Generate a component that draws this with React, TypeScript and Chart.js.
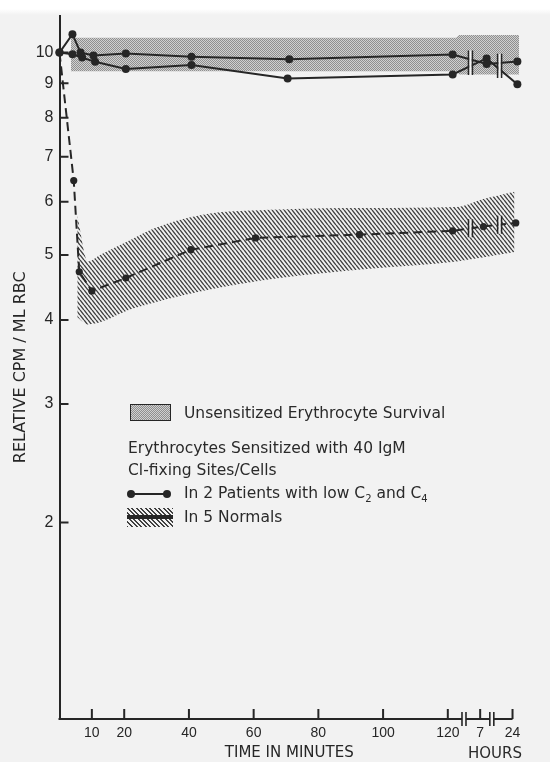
import React, { useEffect, useRef } from "react";
import { Chart, registerables } from "chart.js";

Chart.register(...registerables);

const INK = "#262626";
const PAPER = "#f2f2f2";
const SANS = "'DejaVu Sans', 'Liberation Sans', sans-serif";
const NARROW = "'Liberation Sans', Arial, sans-serif";

// Broken time axis: minutes up to 120, then 130 = 7 hours, 140 = 24 hours
const xTickValues = [10, 20, 40, 60, 80, 100, 120, 130, 140];
const xTickLabels = ["10", "20", "40", "60", "80", "100", "120", "7", "24"];
const yTickValues = [2, 3, 4, 5, 6, 7, 8, 9, 10];
const axisBreaks = [125, 133.6];
const curveBreaks = [127, 136];

// Patients with low C2 and C4 (two curves)
const patientATime = [0, 4, 6.5, 10.5, 20.5, 40.8, 71, 121.5, 132, 141.5];
const patientAValue = [10, 10.65, 10.0, 9.9, 9.97, 9.86, 9.77, 9.93, 9.62, 9.7];
const patientBTime = [0, 4, 7, 11, 20.5, 40.8, 70.5, 121.5, 132, 141.5];
const patientBValue = [10, 9.94, 9.83, 9.69, 9.45, 9.58, 9.15, 9.28, 9.8, 8.97];

// Normals: mean curve and range
const normalTime = [0, 4.4, 6.1, 10, 20.5, 40.6, 60.6, 92.7, 121.5, 131, 141];
const normalValue = [10, 6.45, 4.72, 4.42, 4.62, 5.09, 5.3, 5.36, 5.43, 5.51, 5.58];
const normalHighTime = [5.5, 8.8, 12.5, 20.8, 28.9, 43.4, 68, 96, 122.7, 130.7, 140.6];
const normalHighValue = [5.72, 4.89, 5.0, 5.23, 5.47, 5.73, 5.84, 5.87, 5.89, 6.05, 6.21];
const normalLowTime = [5.5, 8.8, 22.7, 43.4, 68, 95.8, 122.7, 140.6];
const normalLowValue = [4.04, 3.94, 4.16, 4.41, 4.62, 4.77, 4.89, 5.05];

// Unsensitized erythrocyte survival band
const unsensTime = [3.5, 122.5, 123.5, 142];
const unsensHigh = [10.52, 10.52, 10.62, 10.62];
const unsensLow = [9.38, 9.38, 9.28, 9.28];

function pts(xs: number[], ys: number[]) {
  return xs.map((x, i) => ({ x, y: ys[i] }));
}

function interp(xs: number[], ys: number[], v: number) {
  for (let i = 0; i < xs.length - 1; i++) {
    if (v >= xs[i] && v <= xs[i + 1]) {
      const t = (v - xs[i]) / (xs[i + 1] - xs[i]);
      return ys[i] + t * (ys[i + 1] - ys[i]);
    }
  }
  return ys[ys.length - 1];
}

function makeHatch(ctx: CanvasRenderingContext2D) {
  const c = document.createElement("canvas");
  const w = 4, h = 5;
  c.width = w;
  c.height = h;
  const g = c.getContext("2d")!;
  g.strokeStyle = "#404040";
  g.lineWidth = 1.4;
  g.beginPath();
  g.moveTo(0, 0); g.lineTo(w, h);
  g.moveTo(-w, 0); g.lineTo(0, h);
  g.moveTo(w, 0); g.lineTo(2 * w, h);
  g.stroke();
  return ctx.createPattern(c, "repeat")!;
}

function makeStipple(ctx: CanvasRenderingContext2D) {
  const c = document.createElement("canvas");
  c.width = 2;
  c.height = 2;
  const g = c.getContext("2d")!;
  g.fillStyle = "#d0d0d0";
  g.fillRect(0, 0, 2, 2);
  g.fillStyle = "#8f8f8f";
  g.fillRect(0, 0, 1, 1);
  g.fillRect(1, 1, 1, 1);
  return ctx.createPattern(c, "repeat")!;
}

const decorPlugin = {
  id: "decor",
  afterDraw(chart: any) {
    const { ctx, chartArea, scales } = chart;
    const x = scales.x;
    const y = scales.y;
    const yb = chartArea.bottom;
    const left = chartArea.left;
    ctx.save();
    ctx.strokeStyle = INK;
    ctx.lineCap = "butt";

    // x axis line with breaks
    ctx.lineWidth = 2;
    const bp = axisBreaks.map((v) => x.getPixelForValue(v));
    const xEnd = x.getPixelForValue(140);
    const segs = [
      [left - 1, bp[0] - 2],
      [bp[0] + 2, bp[1] - 2],
      [bp[1] + 2, xEnd],
    ];
    ctx.beginPath();
    segs.forEach(([a, b]) => {
      ctx.moveTo(a, yb);
      ctx.lineTo(b, yb);
    });
    ctx.stroke();
    ctx.lineWidth = 1.6;
    ctx.beginPath();
    bp.forEach((p) => {
      ctx.moveTo(p - 2, yb - 7);
      ctx.lineTo(p - 2, yb + 7);
      ctx.moveTo(p + 2, yb - 7);
      ctx.lineTo(p + 2, yb + 7);
    });
    ctx.stroke();

    // inward tick marks
    ctx.lineWidth = 2;
    ctx.beginPath();
    xTickValues.forEach((v) => {
      const px = x.getPixelForValue(v);
      ctx.moveTo(px, yb);
      ctx.lineTo(px, yb - 10);
    });
    yTickValues.forEach((v) => {
      const py = y.getPixelForValue(v);
      ctx.moveTo(left, py);
      ctx.lineTo(left + 9, py);
    });
    ctx.stroke();

    // break marks on curves
    const drawPair = (px: number, top: number, bottom: number) => {
      ctx.fillStyle = PAPER;
      ctx.fillRect(px - 1.2, top, 2.4, bottom - top);
      ctx.lineWidth = 1.5;
      ctx.beginPath();
      ctx.moveTo(px - 2, top);
      ctx.lineTo(px - 2, bottom);
      ctx.moveTo(px + 2, top);
      ctx.lineTo(px + 2, bottom);
      ctx.stroke();
    };
    curveBreaks.forEach((b) => {
      const px = x.getPixelForValue(b);
      const pa = y.getPixelForValue(interp(patientATime, patientAValue, b));
      const pb = y.getPixelForValue(interp(patientBTime, patientBValue, b));
      drawPair(px, Math.min(pa, pb) - 9, Math.max(pa, pb) + 9);
      const pn = y.getPixelForValue(interp(normalTime, normalValue, b));
      drawPair(px, pn - 9, pn + 9);
    });
    ctx.restore();
  },
};

const textStyle: React.CSSProperties = {
  position: "absolute",
  whiteSpace: "nowrap",
  fontFamily: SANS,
  fontSize: 15.5,
  lineHeight: "18px",
  color: "#2a2a2a",
};

export default function App() {
  const ref = useRef<HTMLCanvasElement>(null);

  useEffect(() => {
    const canvas = ref.current!;
    const ctx = canvas.getContext("2d")!;
    const hatch = makeHatch(ctx);
    const stipple = makeStipple(ctx);
    const transparent = "rgba(0,0,0,0)";

    const chart = new Chart(canvas, {
      type: "line",
      data: {
        datasets: [
          {
            label: "Patient A",
            data: pts(patientATime, patientAValue),
            borderColor: INK,
            backgroundColor: INK,
            borderWidth: 2,
            pointRadius: 4,
            pointBorderWidth: 0,
            fill: false,
            tension: 0,
            clip: false,
          },
          {
            label: "Patient B",
            data: pts(patientBTime, patientBValue),
            borderColor: INK,
            backgroundColor: INK,
            borderWidth: 2,
            pointRadius: 4,
            pointBorderWidth: 0,
            fill: false,
            tension: 0,
            clip: false,
          },
          {
            label: "Normals mean",
            data: pts(normalTime, normalValue),
            borderColor: INK,
            backgroundColor: INK,
            borderWidth: 2,
            borderDash: [9, 5],
            pointRadius: normalTime.map((_, i) => (i === 0 ? 0 : 3.6)),
            pointBorderWidth: 0,
            fill: false,
            tension: 0,
            clip: false,
          },
          {
            label: "Unsensitized high",
            data: pts(unsensTime, unsensHigh),
            borderColor: transparent,
            backgroundColor: stipple,
            pointRadius: 0,
            fill: 4,
            tension: 0,
          },
          {
            label: "Unsensitized low",
            data: pts(unsensTime, unsensLow),
            borderColor: transparent,
            pointRadius: 0,
            fill: false,
            tension: 0,
          },
          {
            label: "Normals high",
            data: pts(normalHighTime, normalHighValue),
            borderColor: transparent,
            backgroundColor: hatch,
            pointRadius: 0,
            fill: 6,
            cubicInterpolationMode: "monotone",
          },
          {
            label: "Normals low",
            data: pts(normalLowTime, normalLowValue),
            borderColor: transparent,
            pointRadius: 0,
            fill: false,
            cubicInterpolationMode: "monotone",
          },
        ] as any,
      },
      options: {
        responsive: false,
        animation: false,
        devicePixelRatio: 1,
        layout: { padding: { top: 13, right: 31, bottom: 0, left: 0 } },
        plugins: {
          legend: { display: false },
          tooltip: { enabled: false },
        },
        scales: {
          x: {
            type: "linear",
            min: 0,
            max: 142,
            afterBuildTicks: (scale: any) => {
              scale.ticks = xTickValues.map((v) => ({ value: v }));
            },
            afterFit: (scale: any) => {
              scale.height = 43;
            },
            ticks: {
              autoSkip: false,
              maxRotation: 0,
              padding: 6,
              color: INK,
              font: { family: NARROW, size: 14 },
              callback: (v: any) => {
                const i = xTickValues.indexOf(Number(v));
                return i >= 0 ? xTickLabels[i] : "";
              },
            },
            grid: { display: false, drawTicks: false },
            border: { display: false },
            title: {
              display: true,
              text: "TIME IN MINUTES",
              color: INK,
              font: { family: SANS, size: 15, lineHeight: 1.2 },
              padding: { top: 0, bottom: 0 },
            },
          },
          y: {
            type: "logarithmic",
            min: 1.02,
            max: 11.35,
            afterBuildTicks: (scale: any) => {
              scale.ticks = yTickValues.map((v) => ({ value: v }));
            },
            afterFit: (scale: any) => {
              scale.width = 59.5;
            },
            ticks: {
              autoSkip: false,
              padding: 6,
              color: INK,
              font: { family: NARROW, size: 16 },
              callback: (v: any) => String(v),
            },
            grid: { display: false, drawTicks: false },
            border: { display: true, color: INK, width: 2 },
            title: {
              display: true,
              text: "RELATIVE CPM / ML RBC",
              color: INK,
              font: { family: SANS, size: 16, lineHeight: 1.2 },
              padding: { top: 11, bottom: 0 },
            },
          },
        },
      },
      plugins: [decorPlugin],
    });

    return () => chart.destroy();
  }, []);

  return (
    <div
      style={{
        position: "absolute",
        left: 0,
        top: 0,
        width: 550,
        height: 762,
        background: `linear-gradient(#ffffff 0px, #ffffff 9px, ${PAPER} 15px)`,
        overflow: "hidden",
      }}
    >
      <canvas ref={ref} width={550} height={762} style={{ position: "absolute", left: 0, top: 0 }} />

      {/* Legend */}
      <div
        style={{
          position: "absolute",
          left: 130,
          top: 404,
          width: 39,
          height: 15,
          border: `1.5px solid ${INK}`,
          backgroundImage: "repeating-conic-gradient(#8f8f8f 0 25%, #d0d0d0 0 50%)",
          backgroundSize: "2px 2px",
        }}
      />
      <div style={{ ...textStyle, left: 184, top: 404 }}>Unsensitized Erythrocyte Survival</div>
      <div style={{ ...textStyle, left: 128, top: 439 }}>Erythrocytes Sensitized with 40 IgM</div>
      <div style={{ ...textStyle, left: 128, top: 461 }}>Cl-fixing Sites/Cells</div>

      <div style={{ position: "absolute", left: 131, top: 493, width: 36, height: 2, background: INK }} />
      <div style={{ position: "absolute", left: 127, top: 490, width: 8, height: 8, borderRadius: 4, background: INK }} />
      <div style={{ position: "absolute", left: 163, top: 490, width: 8, height: 8, borderRadius: 4, background: INK }} />
      <div style={{ ...textStyle, left: 184, top: 484 }}>
        In 2 Patients with low C<sub style={{ fontSize: 10 }}>2</sub> and C<sub style={{ fontSize: 10 }}>4</sub>
      </div>

      <div
        style={{
          position: "absolute",
          left: 127,
          top: 508,
          width: 46,
          height: 19,
          backgroundImage: "repeating-linear-gradient(45deg, #404040 0 1.4px, transparent 1.4px 3.2px)",
        }}
      />
      <div style={{ position: "absolute", left: 127, top: 515, width: 46, height: 4, background: INK }} />
      <div style={{ ...textStyle, left: 184, top: 508 }}>In 5 Normals</div>

      <div style={{ ...textStyle, fontSize: 15, left: 468, top: 744 }}>HOURS</div>
    </div>
  );
}
